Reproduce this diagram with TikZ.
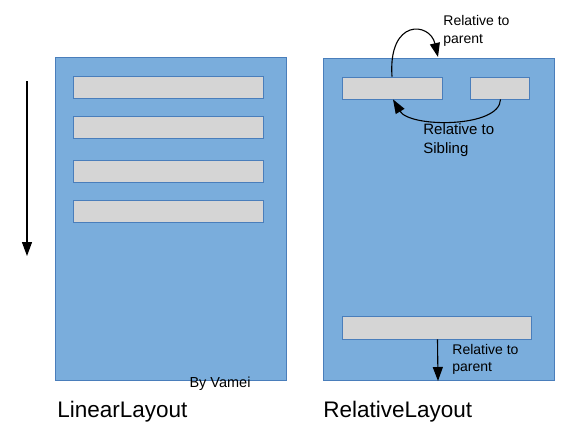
\documentclass[tikz,border=0pt]{standalone}
\usepackage{fontspec}
\setmainfont{Liberation Sans}
\usetikzlibrary{arrows.meta,positioning}
\definecolor{panelblue}{HTML}{7AADDC}
\definecolor{edgeblue}{HTML}{4A7EBB}
\definecolor{bargray}{HTML}{D5D5D5}
\begin{document}
\begin{tikzpicture}[x=1pt, y=-1pt, thick,
    panel/.style = {draw=edgeblue, fill=panelblue, line width=0.8pt, minimum width=231pt, inner sep=0pt},
    bar/.style = {draw=edgeblue, fill=bargray, line width=0.8pt, minimum height=22pt, inner sep=0pt},
    note/.style = {align=left, inner sep=0pt, anchor=west, font=\fontsize{14}{18}\selectfont},
    title/.style = {inner sep=0pt, anchor=west, font=\fontsize{22.5}{26}\selectfont},
    arr/.style = {line width=1.1pt, -{Triangle[length=14pt,width=10pt]}}]
    \useasboundingbox (0,0) rectangle (582,432);

    % LinearLayout
    \node[panel, minimum height=323pt] (linear) at (170.5,218.5) {};
    \foreach \y [count=\i] in {87.5,127.5,171.5,211.5}
        \node[bar, minimum width=190pt] (l\i) at (168,\y) {};
    \coordinate (top) at (27,81);
    \coordinate (bottom) at (27,256);
    \draw[arr] (top) -- (bottom);
    \node[title] (lt) at (57,412) {LinearLayout};
    \node[inner sep=0pt, font=\fontsize{14.5}{17}\selectfont] (by) at (220,384) {By Vamei};

    % RelativeLayout
    \node[panel, minimum height=322pt] (relative) at (438.5,219) {};
    \node[bar, minimum width=100pt] (a) at (392,88) {};
    \node[bar, minimum width=59pt] (b) at (499.5,88) {};
    \node[bar, minimum width=189pt, minimum height=23pt] (c) at (436.5,327.5) {};
    \node[title] (rt) at (323,412) {RelativeLayout};

    \coordinate (p1) at (438,57);
    \coordinate (p2) at (438,381);
    \draw[arr] (a.north) .. controls (388,18) and (430,22) .. (p1);
    \draw[arr] ([xshift=1pt]b.south) .. controls (500,128) and (410,128) .. ([xshift=1pt]a.south);
    \draw[arr] ([xshift=1pt]c.south) -- (p2);

    \node[note] (n1) at (443,31) {Relative to\\parent};
    \node[note, font=\fontsize{15}{19.5}\selectfont] (n2) at (423,140) {Relative to\\Sibling};
    \node[note, font=\fontsize{14}{17}\selectfont] (n3) at (452,359) {Relative to\\parent};
\end{tikzpicture}
\end{document}
